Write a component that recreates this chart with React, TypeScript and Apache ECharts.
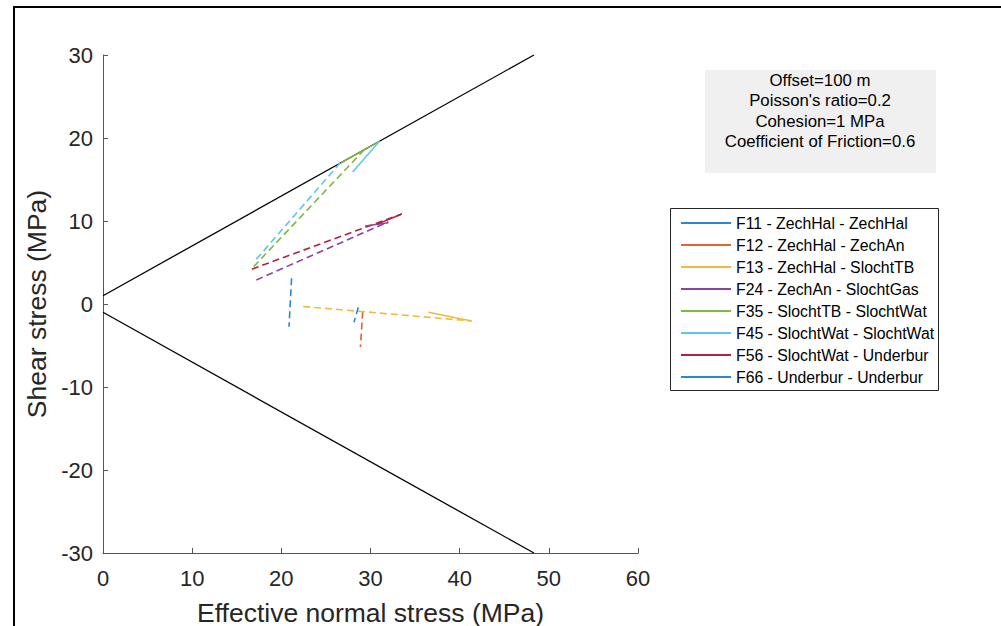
import React, { useEffect, useRef } from "react";
import * as echarts from "echarts";

const xTicks = [0, 10, 20, 30, 40, 50, 60];
const yTicks = [-30, -20, -10, 0, 10, 20, 30];

const envelopeUpper: number[][] = [[0, 1], [48.33, 30]];
const envelopeLower: number[][] = [[0, -1], [48.33, -30]];

const faultNames = [
  "F11 - ZechHal - ZechHal",
  "F12 - ZechHal - ZechAn",
  "F13 - ZechHal - SlochtTB",
  "F24 - ZechAn - SlochtGas",
  "F35 - SlochtTB - SlochtWat",
  "F45 - SlochtWat - SlochtWat",
  "F56 - SlochtWat - Underbur",
  "F66 - Underbur - Underbur",
];

const faultColors = [
  "#2a88cf",
  "#e0643a",
  "#f0bb3a",
  "#8d44a0",
  "#82b83e",
  "#5cc6f0",
  "#ae2440",
  "#2a88cf",
];

const solidF11: number[][] = [];
const solidF12: number[][] = [];
const solidF13: number[][] = [[36.5, -1.0], [41.35, -2.05]];
const solidF24: number[][] = [[29.4, 9.4], [32.0, 9.8]];
const solidF35: number[][] = [[26.7, 17.0], [31.0, 19.6]];
const solidF45: number[][] = [[31.0, 19.6], [28.0, 15.9]];
const solidF56: number[][] = [[30.7, 9.6], [33.5, 10.85]];
const solidF66: number[][] = [];

const dashedF11: number[][] = [[21.15, 3.1], [20.86, -2.75]];
const dashedF12: number[][] = [[29.12, -0.9], [28.87, -5.2]];
const dashedF13: number[][] = [[22.45, -0.3], [41.35, -2.05]];
const dashedF24: number[][] = [[17.2, 2.9], [32.0, 9.9]];
const dashedF35: number[][] = [[16.9, 4.5], [29.3, 18.6]];
const dashedF45: number[][] = [[17.2, 5.4], [26.6, 17.0]];
const dashedF56: number[][] = [[16.7, 4.2], [33.5, 10.85]];
const dashedF66: number[][] = [[28.63, -0.4], [28.15, -2.2]];

const solidData = [solidF11, solidF12, solidF13, solidF24, solidF35, solidF45, solidF56, solidF66];
const dashedData = [dashedF11, dashedF12, dashedF13, dashedF24, dashedF35, dashedF45, dashedF56, dashedF66];

const infoLines = [
  "Offset=100 m",
  "Poisson's ratio=0.2",
  "Cohesion=1 MPa",
  "Coefficient of Friction=0.6",
];

const FONT = "'Liberation Sans', Arial, Helvetica, sans-serif";

export default function App() {
  const ref = useRef<HTMLDivElement>(null);
  useEffect(() => {
    if (!ref.current) return;
    const chart = echarts.init(ref.current, undefined, { renderer: "svg" });
    const series: any[] = [];
    series.push({
      name: "envU",
      type: "line",
      data: envelopeUpper,
      symbol: "none",
      lineStyle: { color: "#000", width: 1.3 },
      z: 1,
    });
    series.push({
      name: "envL",
      type: "line",
      data: envelopeLower,
      symbol: "none",
      lineStyle: { color: "#000", width: 1.3 },
      z: 1,
    });
    faultNames.forEach((n, i) => {
      series.push({
        name: n,
        type: "line",
        data: solidData[i],
        symbol: "none",
        color: faultColors[i],
        lineStyle: { color: faultColors[i], width: 1.5, type: "solid" },
        z: 3,
      });
      series.push({
        name: n + " (dashed)",
        type: "line",
        data: dashedData[i],
        symbol: "none",
        color: faultColors[i],
        lineStyle: { color: faultColors[i], width: 1.6, type: [7, 4] },
        z: 2,
      });
    });

    const option: any = {
      animation: false,
      grid: {
        left: 103,
        right: 363,
        top: 55,
        bottom: 73,
        containLabel: false,
        outerBoundsMode: "none",
      },
      xAxis: {
        type: "value",
        min: 0,
        max: 60,
        interval: 10,
        name: "Effective normal stress (MPa)",
        nameLocation: "middle",
        nameGap: 46,
        nameTextStyle: { fontFamily: FONT, fontSize: 26.5, color: "#262626" },
        axisLine: { show: true, onZero: false, lineStyle: { color: "#555", width: 1 } },
        axisTick: { show: true, inside: true, length: 5, lineStyle: { color: "#555" } },
        axisLabel: {
          fontFamily: FONT,
          fontSize: 22,
          color: "#262626",
          margin: 14,
          formatter: (v: number) => (xTicks.includes(v) ? String(v) : ""),
        },
        splitLine: { show: false },
      },
      yAxis: {
        type: "value",
        min: -30,
        max: 30,
        interval: 10,
        name: "Shear stress (MPa)",
        nameLocation: "middle",
        nameGap: 52,
        nameRotate: 90,
        nameTextStyle: { fontFamily: FONT, fontSize: 26.5, color: "#262626" },
        axisLine: { show: true, onZero: false, lineStyle: { color: "#555", width: 1 } },
        axisTick: { show: true, inside: true, length: 5, lineStyle: { color: "#555" } },
        axisLabel: {
          fontFamily: FONT,
          fontSize: 22,
          color: "#262626",
          margin: 10,
          formatter: (v: number) => (yTicks.includes(v) ? String(v) : ""),
        },
        splitLine: { show: false },
      },
      legend: {
        data: faultNames.map((n) => ({ name: n, icon: "rect" })),
        orient: "vertical",
        left: 676,
        top: 210,
        padding: 5,
        itemWidth: 50,
        itemHeight: 2,
        itemGap: 6,
        selectedMode: false,
        textStyle: { fontFamily: FONT, fontSize: 15.8, color: "#000", lineHeight: 16, height: 16 },
      },
      graphic: [
        {
          type: "rect",
          shape: { x: 14, y: 7, width: 1200, height: 800 },
          style: { fill: "none", stroke: "#000", lineWidth: 2 },
          silent: true,
          z: 100,
        },
        {
          type: "rect",
          shape: { x: 705, y: 70, width: 231, height: 103 },
          style: { fill: "#f0f0f0" },
          silent: true,
          z: 50,
        },
        {
          type: "text",
          x: 820,
          y: 70,
          style: {
            text: infoLines.join("\n"),
            fontFamily: FONT,
            fontSize: 16.8,
            lineHeight: 20.4,
            fill: "#000",
            align: "center",
            verticalAlign: "top",
          },
          silent: true,
          z: 51,
        },
        {
          type: "rect",
          shape: { x: 670.5, y: 208.5, width: 268, height: 182 },
          style: { fill: "#fff", stroke: "#262626", lineWidth: 1 },
          silent: true,
          z: -1,
        },
      ],
      series,
    };
    chart.setOption(option);
    return () => chart.dispose();
  }, []);
  return (
    <div
      ref={ref}
      style={{ position: "fixed", left: 0, top: 0, width: 1001, height: 626, background: "#fff" }}
    />
  );
}
